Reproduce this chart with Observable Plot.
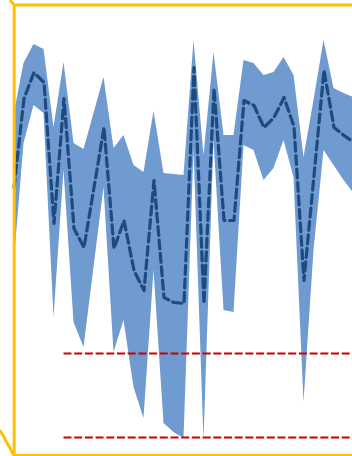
<!DOCTYPE html>
<html>
<head>
<meta charset="utf-8">
<script src="https://cdn.jsdelivr.net/npm/d3@7"></script>
<script src="https://cdn.jsdelivr.net/npm/@observablehq/plot@0.6"></script>
<style>
  html, body { margin: 0; padding: 0; background: #fff; overflow: hidden; }
  #wrap { position: relative; width: 352px; height: 456px; overflow: hidden; }
  #wrap svg.plot { max-width: none !important; display: block; }
  #deco { position: absolute; left: 0; top: 0; pointer-events: none; }
</style>
</head>
<body>
<div id="wrap"><div id="chart"></div>
<svg id="deco" width="352" height="456">
  <line x1="13.7" y1="4.5" x2="10" y2="0" stroke="#FFC000" stroke-width="3"/>
  <line x1="13.7" y1="455" x2="0" y2="430" stroke="#FFC000" stroke-width="3"/>
</svg>
</div>
<script>
// period index (categories)
const period = [0,1,2,3,4,5,6,7,8,9,10,11,12,13,14,15,16,17,18,19,20,21,22,23,24,25,26,27,28,29,30,31,32,33,34];
// upper bound of band
const upper = [3.40,3.92,4.11,4.06,3.28,3.93,3.12,3.06,3.42,3.78,3.07,3.20,2.90,2.83,3.44,2.82,2.81,2.80,4.15,3.00,4.03,3.20,3.20,3.95,3.92,3.80,3.83,3.98,3.80,2.98,3.55,4.15,3.67,3.62,3.58];
// mean (dashed line)
const mean  = [2.68,3.57,3.83,3.73,2.32,3.57,2.27,2.08,2.68,3.28,2.07,2.35,1.85,1.65,2.75,1.58,1.53,1.52,3.88,1.52,3.67,2.35,2.35,3.55,3.50,3.28,3.38,3.58,3.29,1.75,2.80,3.85,3.28,3.20,3.13];
// lower bound of band
const lower = [1.90,3.12,3.50,3.42,1.38,2.85,1.33,1.08,1.88,2.68,1.03,1.35,0.68,0.37,1.85,0.32,0.23,0.17,3.05,0.15,3.15,1.45,1.43,3.10,3.05,2.75,2.87,3.15,2.78,0.53,2.05,3.05,2.90,2.75,2.62];
// threshold lines
const thresholds = [1.02, 0.18];
const thresholdStart = 5;

const data = period.map((p, k) => ({p, hi: upper[k], mid: mean[k], lo: lower[k]}));

const chart = Plot.plot({
  width: 400,
  height: 456,
  marginLeft: 13.7,
  marginTop: 4.5,
  marginBottom: 1,
  marginRight: 0,
  x: {domain: [0, 34], range: [13.5, 353.5], axis: null},
  y: {domain: [0, 4.5], range: [455, 5], axis: null},
  marks: [
    Plot.areaY(data, {x: "p", y1: "lo", y2: "hi", fill: "#6f9bd1", curve: "linear"}),
    Plot.lineY(data, {x: "p", y: "mid", stroke: "#1f4a80", strokeWidth: 3.2, strokeDasharray: "9,4.5", strokeLinejoin: "round", curve: "linear"}),
    Plot.ruleY(thresholds, {y: d => d, x1: thresholdStart, x2: 40, stroke: "#CC0000", strokeWidth: 2.2, strokeDasharray: "8,2.7"}),
    Plot.frame({stroke: "#FFC000", strokeWidth: 3})
  ]
});
chart.classList.add("plot");
document.getElementById("chart").appendChild(chart);
</script>
</body>
</html>
